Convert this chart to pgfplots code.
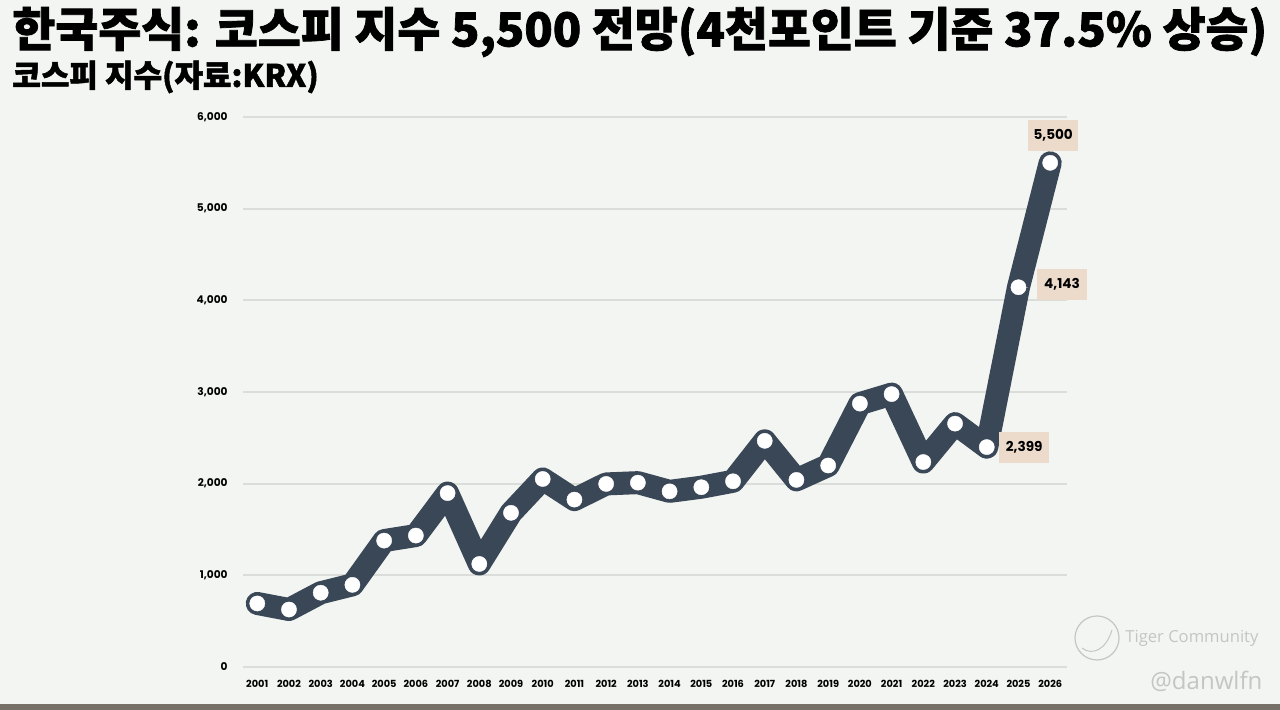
\documentclass[border=0pt]{standalone}
\usepackage{fontspec}
\setmainfont{Poppins}
\newfontfamily\kr[BoldFeatures={FakeBold=1.6}]{Noto Sans CJK KR}
\newfontfamily\wm{Open Sans}
\usepackage{pgfplots}
\pgfplotsset{compat=1.18}
\definecolor{bg}{RGB}{242,245,241}
\definecolor{ln}{RGB}{58,71,87}
\definecolor{gridc}{RGB}{218,221,217}
\definecolor{lab}{RGB}{236,219,203}
\definecolor{wmc}{RGB}{196,198,196}
\definecolor{strip}{RGB}{118,112,105}
\begin{document}
\begin{tikzpicture}
\fill[bg] (0,0) rectangle (640pt,355pt);
\path[use as bounding box] (0,0) rectangle (640pt,355pt);
\fill[strip] (0,0) rectangle (640pt,3pt);
\node[anchor=west, inner sep=0pt] at (6pt,339pt) {\kr\bfseries\fontsize{23.35pt}{26pt}\selectfont 한국주식: 코스피 지수 5,500 전망(4천포인트 기준 37.5\% 상승)};
\node[anchor=west, inner sep=0pt] at (6pt,316.5pt) {\kr\bfseries\fontsize{15.5pt}{18pt}\selectfont 코스피 지수(자료:KRX)};
\draw[wmc, line width=0.6pt] (548.5pt,36pt) circle (11pt);
\draw[wmc, line width=0.5pt] (541pt,31pt) .. controls (546pt,27pt) and (553pt,30pt) .. (556pt,40pt);
\node[anchor=west, inner sep=0pt, text=wmc] at (562.5pt,36pt) {\wm\fontsize{8.3pt}{10pt}\selectfont Tiger Community};
\node[anchor=west, inner sep=0pt, text=wmc] at (575pt,14.5pt) {\wm\fontsize{12pt}{14pt}\selectfont @danwlfn};
\begin{axis}[at={(121.5pt,21.5pt)}, anchor=south west, scale only axis,
  width=412pt, height=275pt,
  xmin=2000.55, xmax=2026.53, ymin=0, ymax=6000,
  axis line style={draw=none}, tick style={draw=none},
  ymajorgrids, major grid style={gridc, line width=0.9pt},
  xtick={2001,2002,2003,2004,2005,2006,2007,2008,2009,2010,2011,2012,2013,2014,2015,2016,2017,2018,2019,2020,2021,2022,2023,2024,2025,2026},
  xticklabels={2001,2002,2003,2004,2005,2006,2007,2008,2009,2010,2011,2012,2013,2014,2015,2016,2017,2018,2019,2020,2021,2022,2023,2024,2025,2026},
  ytick={0,1000,2000,3000,4000,5000,6000},
  yticklabels={0,{1,000},{2,000},{3,000},{4,000},{5,000},{6,000}},
  xticklabel style={anchor=center, inner sep=0pt, yshift=-8.5pt, font=\bfseries\fontsize{4.9pt}{5pt}\selectfont},
  yticklabel style={anchor=east, inner sep=0pt, xshift=-7.5pt, font=\bfseries\fontsize{5.3pt}{6pt}\selectfont},
  clip=false]
\addplot[ln, line width=11.5pt, line join=round, line cap=round, mark=*, mark size=3.8pt,
  mark options={fill=white, draw=white, line width=0.2pt}] coordinates {
  (2001,693) (2002,627) (2003,810) (2004,896) (2005,1379) (2006,1434) (2007,1897)
  (2008,1124) (2009,1682) (2010,2051) (2011,1826) (2012,1997) (2013,2011) (2014,1916)
  (2015,1961) (2016,2026) (2017,2467) (2018,2041) (2019,2198) (2020,2873) (2021,2977)
  (2022,2236) (2023,2655) (2024,2399) (2025,4143) (2026,5500)};
\draw[gray, line width=0.4pt] (axis cs:2026,5500) -- ++(0pt,3.6pt);
\draw[gray, line width=0.4pt] (axis cs:2025,4143) -- ++(5pt,0pt);
\node[fill=lab, inner sep=0pt, minimum width=25pt, minimum height=15.5pt, xshift=1.5pt, yshift=13.75pt,
  font=\bfseries\fontsize{6.8pt}{8pt}\selectfont] at (axis cs:2026,5500) {5,500};
\node[fill=lab, inner sep=0pt, minimum width=25pt, minimum height=15.5pt, xshift=21.75pt, yshift=1.25pt,
  font=\bfseries\fontsize{6.8pt}{8pt}\selectfont] at (axis cs:2025,4143) {4,143};
\node[fill=lab, inner sep=0pt, minimum width=25pt, minimum height=15.5pt, xshift=18.75pt,
  font=\bfseries\fontsize{6.8pt}{8pt}\selectfont] at (axis cs:2024,2399) {2,399};
\end{axis}
\end{tikzpicture}
\end{document}
